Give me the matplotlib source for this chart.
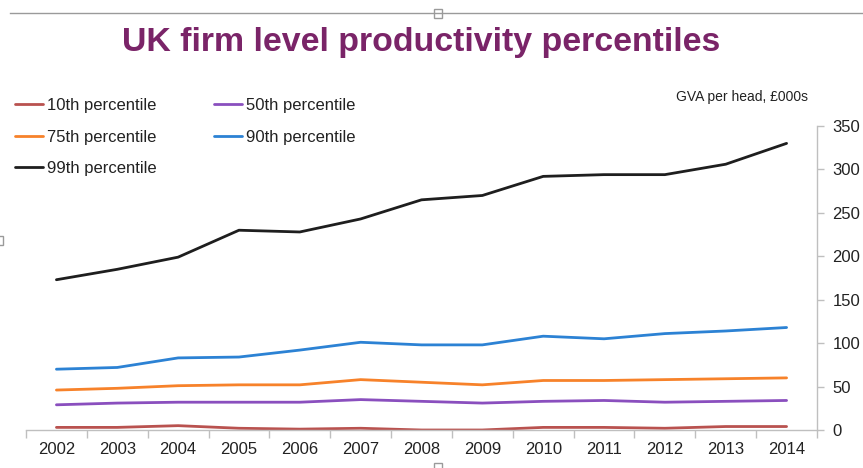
import matplotlib
matplotlib.use("Agg")
import matplotlib.pyplot as plt
from matplotlib.lines import Line2D
from matplotlib.patches import Rectangle

years = ["2002", "2003", "2004", "2005", "2006", "2007", "2008",
         "2009", "2010", "2011", "2012", "2013", "2014"]
p10 = [3, 3, 5, 2, 1, 2, 0, 0, 3, 3, 2, 4, 4]
p50 = [29, 31, 32, 32, 32, 35, 33, 31, 33, 34, 32, 33, 34]
p75 = [46, 48, 51, 52, 52, 58, 55, 52, 57, 57, 58, 59, 60]
p90 = [70, 72, 83, 84, 92, 101, 98, 98, 108, 105, 111, 114, 118]
p99 = [173, 185, 199, 230, 228, 243, 265, 270, 292, 294, 294, 306, 330]
yticks = [0, 50, 100, 150, 200, 250, 300, 350]

series = [
    ("10th percentile", p10, "#B9524F"),
    ("50th percentile", p50, "#8A4FBE"),
    ("75th percentile", p75, "#F7822A"),
    ("90th percentile", p90, "#2C82D4"),
    ("99th percentile", p99, "#1E1E1E"),
]

plt.rcParams["font.family"] = ["Liberation Sans", "DejaVu Sans"]

W, H = 863, 468
fig = plt.figure(figsize=(W / 100, H / 100), dpi=100)
ax = fig.add_axes([26 / W, 1 - 430 / H, (817 - 26) / W, (430 - 126) / H])

x = list(range(len(years)))
handles = {}
for name, vals, col in series:
    (ln,) = ax.plot(x, vals, color=col, lw=2.0, label=name,
                    solid_joinstyle="round", solid_capstyle="round")
    handles[name] = ln

ax.set_xlim(-0.5, len(years) - 0.5)
ax.set_ylim(0, 350)
ax.yaxis.tick_right()
ax.set_yticks(yticks)
ax.set_yticklabels([str(v) for v in yticks])
ax.set_xticks(x)
ax.set_xticklabels(years)
ax.set_xticks([i - 0.5 for i in range(len(years) + 1)], minor=True)
ax.tick_params(axis="x", which="major", length=0, pad=9, labelsize=12, colors="#222222")
ax.tick_params(axis="x", which="minor", length=6, color="#BFBFBF", width=1)
ax.tick_params(axis="y", which="major", length=5, color="#BFBFBF", width=1,
               pad=6, labelsize=12, labelcolor="#222222")
for s in ["top", "left"]:
    ax.spines[s].set_visible(False)
for s in ["bottom", "right"]:
    ax.spines[s].set_color("#BFBFBF")
    ax.spines[s].set_linewidth(1)

order = ["10th percentile", "75th percentile", "99th percentile",
         "50th percentile", "90th percentile"]
fig.legend([handles[n] for n in order], order, loc="upper left",
           bbox_to_anchor=(15 / W, 1 - 98 / H), ncol=2, frameon=False,
           fontsize=12, handlelength=1.68, handletextpad=0.24,
           columnspacing=3.45, labelspacing=1.0, borderaxespad=0,
           borderpad=0, labelcolor="#222222")

fig.text(808 / W, 1 - 97 / H, "GVA per head, £000s", ha="right", va="center",
         fontsize=10, color="#222222")
fig.text(421 / W, 1 - 42 / H, "UK firm level productivity percentiles",
         ha="center", va="center", fontsize=24.4, fontweight="bold", color="#7A2468")

# frame line with selection handles (screenshot artefacts)
fig.add_artist(Line2D([10 / W, 1], [1 - 13 / H] * 2, color="#9A9A9A", lw=1))
fig.add_artist(Rectangle((434 / W, 1 - 18 / H), 8 / W, 9 / H, facecolor="white",
                         edgecolor="#9A9A9A", lw=1))
fig.add_artist(Rectangle((-5 / W, 1 - 245 / H), 8 / W, 9 / H, facecolor="white",
                         edgecolor="#9A9A9A", lw=1))
fig.add_artist(Rectangle((434 / W, 1 - 472 / H), 8 / W, 9 / H, facecolor="white",
                         edgecolor="#9A9A9A", lw=1))

fig.savefig("out.png", dpi=100)
